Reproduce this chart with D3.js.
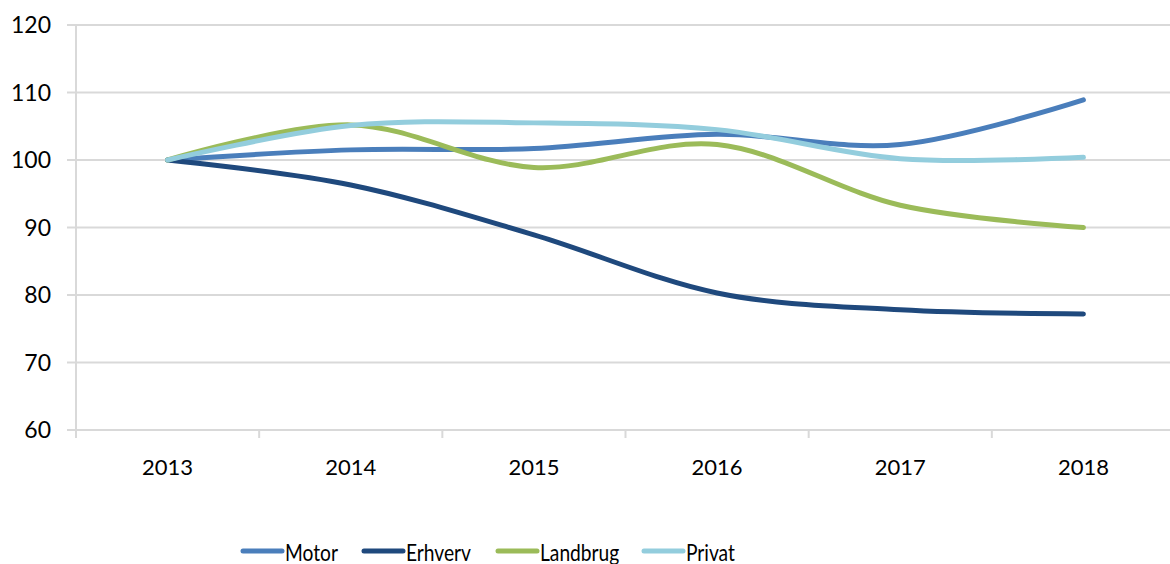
<!DOCTYPE html>
<html>
<head>
<meta charset="utf-8">
<script src="https://cdn.jsdelivr.net/npm/d3@7"></script>
<style>
  body { margin: 0; background: #fff; }
  svg { display: block; font-family: Lato, "Open Sans", sans-serif; }
</style>
</head>
<body>
<div id="chart"></div>
<script>
// data
const years = ["2013", "2014", "2015", "2016", "2017", "2018"];
const motor = [100, 101.5, 101.7, 103.8, 102.3, 108.9];
const erhverv = [100, 96.3, 88.9, 80.3, 77.8, 77.2];
const landbrug = [100, 105.2, 98.9, 102.3, 93.3, 90.0];
const privat = [100, 105.1, 105.5, 104.5, 100.2, 100.4];
const seriesNames = ["Motor", "Erhverv", "Landbrug", "Privat"];
const yTicks = [60, 70, 80, 90, 100, 110, 120];

const width = 1170, height = 564;
const color = ["#4a7ebb", "#1f497d", "#9bbb59", "#93cddd"];
const series = [motor, erhverv, landbrug, privat];

const svg = d3.select("#chart").append("svg")
    .attr("width", width)
    .attr("height", height);

const x = d3.scaleBand()
    .domain(years)
    .range([76, 1175]);

const y = d3.scaleLinear()
    .domain([60, 120])
    .range([430, 25]);

// gridlines
svg.append("g")
    .selectAll("line")
    .data(yTicks)
    .enter().append("line")
    .attr("x1", 67)
    .attr("x2", width)
    .attr("y1", d => y(d))
    .attr("y2", d => y(d))
    .attr("stroke", "#d9d9d9")
    .attr("stroke-width", 2);

// y axis line
svg.append("line")
    .attr("x1", x.range()[0]).attr("x2", x.range()[0])
    .attr("y1", y(120)).attr("y2", y(60) + 8)
    .attr("stroke", "#d9d9d9")
    .attr("stroke-width", 2);

// x tick marks between categories
svg.append("g")
    .selectAll("line")
    .data(years.slice(1))
    .enter().append("line")
    .attr("x1", d => x(d)).attr("x2", d => x(d))
    .attr("y1", y(60)).attr("y2", y(60) + 8)
    .attr("stroke", "#d9d9d9")
    .attr("stroke-width", 2);

// y labels
svg.append("g")
    .selectAll("text")
    .data(yTicks)
    .enter().append("text")
    .attr("x", 51)
    .attr("y", d => y(d))
    .attr("dy", "0.35em")
    .attr("text-anchor", "end")
    .attr("font-size", 23)
    .attr("fill", "#000")
    .text(d => d);

// x labels
svg.append("g")
    .selectAll("text")
    .data(years)
    .enter().append("text")
    .attr("x", d => x(d) + x.bandwidth() / 2)
    .attr("y", 475)
    .attr("text-anchor", "middle")
    .attr("font-size", 22)
    .attr("fill", "#000")
    .text(d => d);

const line = d3.line()
    .x((d, i) => x(years[i]) + x.bandwidth() / 2)
    .y(d => y(d))
    .curve(d3.curveCardinal.tension(0));

svg.append("g")
    .selectAll("path")
    .data(series)
    .enter().append("path")
    .attr("d", line)
    .attr("fill", "none")
    .attr("stroke", (d, i) => color[i])
    .attr("stroke-width", 5)
    .attr("stroke-linecap", "round")
    .attr("stroke-linejoin", "round");

// legend
const legendX = [243, 364, 498, 644];
const legend = svg.append("g")
    .selectAll("g")
    .data(seriesNames)
    .enter().append("g")
    .attr("transform", (d, i) => "translate(" + legendX[i] + ",551)");

legend.append("line")
    .attr("x1", 0).attr("x2", 39)
    .attr("stroke", (d, i) => color[i])
    .attr("stroke-width", 5)
    .attr("stroke-linecap", "round");

// the reference font is narrow, squeeze Lato a bit
legend.append("text")
    .attr("transform", "translate(42,10) scale(0.8,1)")
    .attr("font-size", 24)
    .attr("fill", "#000")
    .text(d => d);
</script>
</body>
</html>
